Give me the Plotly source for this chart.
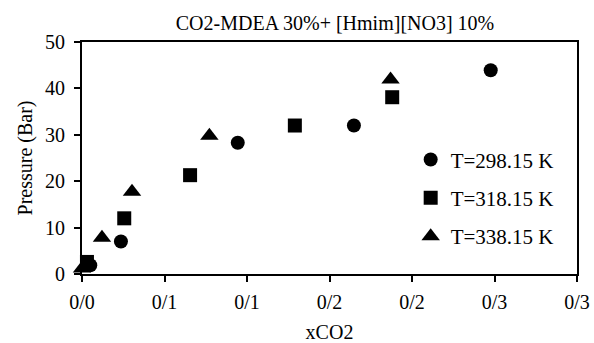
import plotly.graph_objects as go

# Data
x_298 = [0.005, 0.0236, 0.0944, 0.1648, 0.2477]
p_298 = [1.9, 7.0, 28.3, 32.0, 43.9]

x_318 = [0.003, 0.0256, 0.0655, 0.129, 0.188]
p_318 = [2.6, 12.0, 21.3, 32.0, 38.1]

x_338 = [0.0, 0.0121, 0.0303, 0.0772, 0.187]
p_338 = [1.2, 7.8, 17.7, 29.8, 41.9]

x_tickvals = [0, 0.05, 0.10, 0.15, 0.20, 0.25, 0.30]
x_ticktext = ["0/0", "0/1", "0/1", "0/2", "0/2", "0/3", "0/3"]
y_tickvals = [0, 10, 20, 30, 40, 50]

FONT = "Liberation Serif, Times New Roman, serif"

fig = go.Figure()
series = [
    ("T=298.15 K", x_298, p_298, "circle", 14),
    ("T=318.15 K", x_318, p_318, "square", 14),
    ("T=338.15 K", x_338, p_338, "triangle-up", 16),
]
for name, xs, ys, sym, sz in series:
    fig.add_trace(go.Scatter(
        x=xs, y=ys, mode="markers", name=name, legendgroup=name,
        marker=dict(symbol=sym, size=sz, color="black", line=dict(width=0)),
        cliponaxis=False,
    ))

axis_common = dict(
    showline=True, linecolor="black", linewidth=2, mirror=True,
    showgrid=False, zeroline=False, automargin=False,
    ticks="outside", ticklen=6, tickwidth=2, tickcolor="black",
    tickfont=dict(family=FONT, size=20, color="black"),
)

fig.update_layout(
    width=594, height=343,
    margin=dict(l=82, r=17, t=42, b=69),
    paper_bgcolor="white", plot_bgcolor="white",
    font=dict(family=FONT, size=20, color="black"),
    title=dict(text="CO2-MDEA 30%+ [Hmim][NO3] 10%", x=0.564, xanchor="center",
               y=1 - 23 / 343, yanchor="middle", yref="container",
               font=dict(family=FONT, size=20, color="black"), automargin=False),
    xaxis=dict(range=[0, 0.3], tickvals=x_tickvals, ticktext=x_ticktext,
               ticklabelstandoff=3,
               title=dict(text="xCO2", standoff=15,
                          font=dict(family=FONT, size=20, color="black")),
               **axis_common),
    yaxis=dict(range=[0, 50], tickvals=y_tickvals,
               ticklabelstandoff=5,
               title=dict(text="Pressure (Bar)", standoff=7,
                          font=dict(family=FONT, size=20, color="black")),
               **axis_common),
    legend=dict(x=0.664, y=0.328, xanchor="left", yanchor="middle",
                bgcolor="rgba(0,0,0,0)", borderwidth=0,
                tracegroupgap=8,
                font=dict(family=FONT, size=21, color="black")),
)

fig.write_html("out.html")
